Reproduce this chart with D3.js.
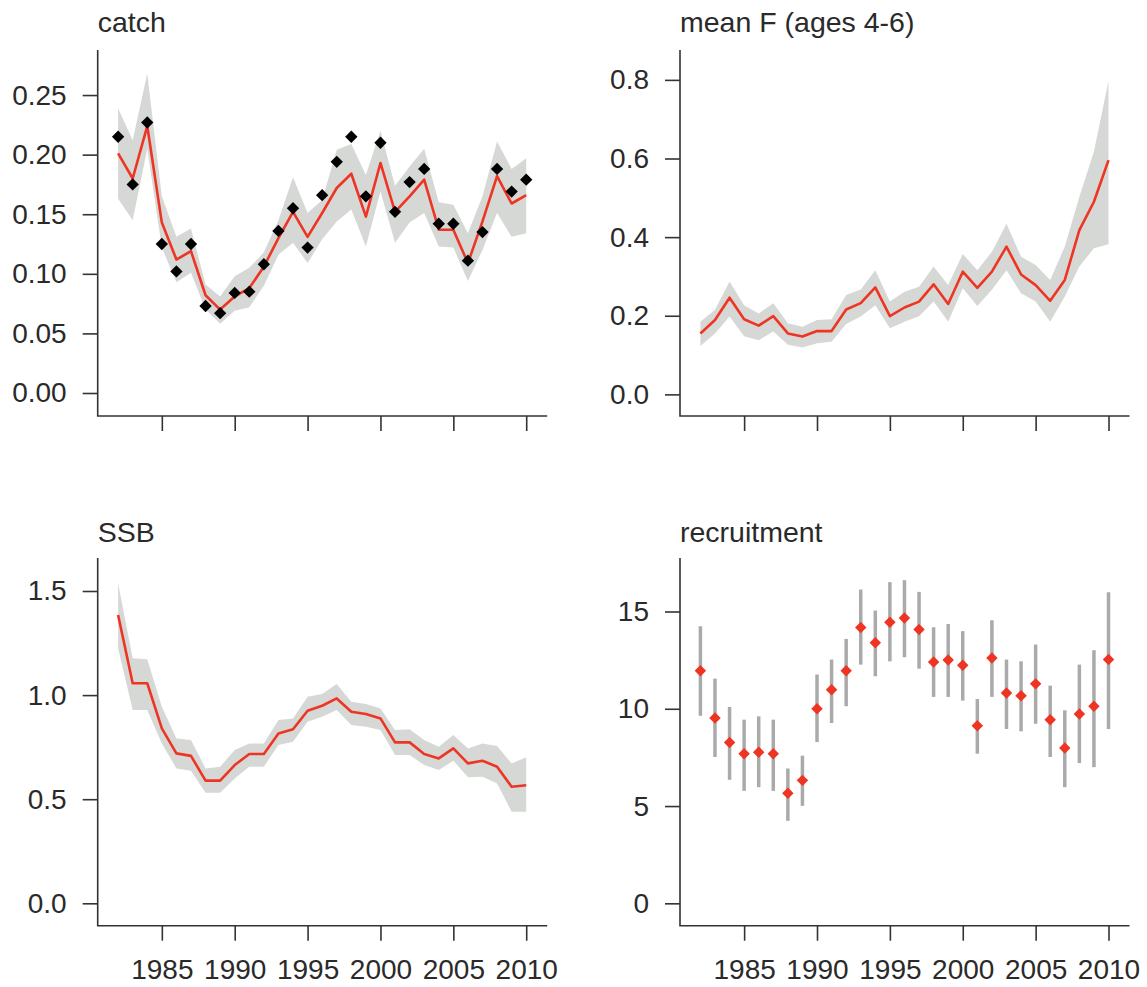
<!DOCTYPE html>
<html>
<head>
<meta charset="utf-8">
<script src="https://cdn.jsdelivr.net/npm/d3@7"></script>
<style>
  body { margin: 0; background: #fff; }
  svg { display: block; }
  text { font-family: "Liberation Sans", Arial, sans-serif; fill: #2a2a2a; }
</style>
</head>
<body>
<svg id="chart" width="1147" height="987"></svg>
<script>
// years of the assessment
const years = d3.range(1982, 2011);
const yearTicks = [1985, 1990, 1995, 2000, 2005, 2010];

// catch: observed points, fitted line and band
const catchObs = [0.215, 0.175, 0.227, 0.125, 0.102, 0.125, 0.073, 0.067, 0.084, 0.085,
  0.108, 0.136, 0.155, 0.122, 0.166, 0.194, 0.215, 0.165, 0.210, 0.152,
  0.177, 0.188, 0.142, 0.142, 0.111, 0.135, 0.188, 0.169, 0.179];
const catchFit = [0.201, 0.180, 0.224, 0.143, 0.112, 0.119, 0.082, 0.070, 0.081, 0.088,
  0.106, 0.130, 0.152, 0.131, 0.151, 0.172, 0.184, 0.148, 0.193, 0.152,
  0.165, 0.179, 0.137, 0.137, 0.109, 0.144, 0.182, 0.159, 0.166];
const catchLo = [0.163, 0.145, 0.205, 0.122, 0.093, 0.101, 0.070, 0.058, 0.069, 0.072,
  0.090, 0.116, 0.126, 0.109, 0.129, 0.144, 0.154, 0.123, 0.169, 0.126,
  0.143, 0.151, 0.123, 0.122, 0.094, 0.120, 0.151, 0.131, 0.134];
const catchHi = [0.239, 0.212, 0.268, 0.165, 0.131, 0.138, 0.091, 0.081, 0.098, 0.105,
  0.118, 0.145, 0.181, 0.151, 0.162, 0.204, 0.209, 0.183, 0.220, 0.174,
  0.190, 0.205, 0.160, 0.158, 0.134, 0.165, 0.211, 0.188, 0.197];
const catchTicks = [0, 0.05, 0.10, 0.15, 0.20, 0.25];

// mean F (ages 4-6)
const fbarFit = [0.155, 0.189, 0.246, 0.191, 0.175, 0.199, 0.155, 0.147, 0.161, 0.161,
  0.216, 0.232, 0.272, 0.199, 0.221, 0.236, 0.280, 0.230, 0.312, 0.271,
  0.312, 0.376, 0.305, 0.278, 0.238, 0.291, 0.418, 0.490, 0.596];
const fbarLo = [0.123, 0.155, 0.198, 0.148, 0.138, 0.160, 0.126, 0.119, 0.130, 0.134,
  0.179, 0.198, 0.227, 0.168, 0.185, 0.199, 0.236, 0.185, 0.270, 0.225,
  0.266, 0.316, 0.257, 0.236, 0.185, 0.249, 0.325, 0.372, 0.382];
const fbarHi = [0.185, 0.215, 0.287, 0.227, 0.206, 0.232, 0.181, 0.172, 0.189, 0.191,
  0.253, 0.267, 0.316, 0.236, 0.261, 0.274, 0.325, 0.278, 0.357, 0.316,
  0.363, 0.434, 0.350, 0.329, 0.291, 0.376, 0.503, 0.618, 0.798];
const fbarTicks = [0, 0.2, 0.4, 0.6, 0.8];

// SSB
const ssbFit = [1.385, 1.057, 1.057, 0.840, 0.720, 0.708, 0.589, 0.589, 0.664, 0.717,
  0.717, 0.816, 0.836, 0.925, 0.949, 0.984, 0.920, 0.909, 0.888, 0.773,
  0.773, 0.717, 0.696, 0.744, 0.672, 0.685, 0.656, 0.560, 0.567];
const ssbLo = [1.225, 0.928, 0.928, 0.768, 0.648, 0.637, 0.531, 0.531, 0.600, 0.656,
  0.656, 0.760, 0.776, 0.872, 0.896, 0.928, 0.856, 0.848, 0.832, 0.712,
  0.712, 0.664, 0.640, 0.685, 0.605, 0.608, 0.576, 0.440, 0.440];
const ssbHi = [1.537, 1.177, 1.172, 0.944, 0.792, 0.784, 0.648, 0.656, 0.736, 0.768,
  0.768, 0.880, 0.888, 0.992, 1.005, 1.053, 0.968, 0.957, 0.936, 0.832,
  0.836, 0.784, 0.752, 0.808, 0.744, 0.768, 0.755, 0.672, 0.701];
const ssbTicks = [0, 0.5, 1.0, 1.5];

// recruitment with intervals
const recFit = [11.96, 9.52, 8.27, 7.69, 7.77, 7.69, 5.66, 6.32, 10.00, 10.98,
  11.96, 14.18, 13.39, 14.45, 14.67, 14.07, 12.41, 12.51, 12.24, 9.13,
  12.61, 10.81, 10.67, 11.28, 9.44, 7.98, 9.73, 10.13, 12.53];
const recLo = [9.64, 7.52, 6.35, 5.78, 5.97, 5.78, 4.24, 5.01, 8.29, 9.27,
  10.13, 12.27, 11.67, 12.44, 12.65, 12.06, 10.61, 10.61, 10.42, 7.69,
  10.61, 8.96, 8.84, 9.23, 7.52, 5.97, 7.21, 7.00, 8.96];
const recHi = [14.24, 11.55, 10.09, 9.44, 9.61, 9.44, 6.93, 7.59, 11.76, 12.53,
  13.59, 16.13, 15.05, 16.51, 16.61, 16.01, 14.19, 14.36, 13.99, 10.50,
  14.55, 12.53, 12.44, 13.30, 11.19, 9.92, 12.27, 13.01, 15.99];
const recTicks = [0, 5, 10, 15];

const bandColor = "#d6d8d6";
const redColor = "#ee3524";
const axisColor = "#333";

const svg = d3.select("#chart");

function panel(opt) {
  const g = svg.append("g");
  const x = d3.scaleLinear().domain([1980.6, 2011.44]).range([opt.left, opt.left + 449.5]);
  const y = d3.scaleLinear().domain(opt.yDomain).range([opt.bottom, opt.top]);

  // title
  g.append("text")
    .attr("x", opt.left)
    .attr("y", opt.titleY)
    .style("font-size", "28.5px")
    .text(opt.title);

  // data layers
  if (opt.lo && !opt.bars) {
    const area = d3.area()
      .x((d, i) => x(years[i]))
      .y0((d, i) => y(opt.lo[i]))
      .y1((d, i) => y(opt.hi[i]));
    g.append("path").datum(opt.fit).attr("d", area).attr("fill", bandColor);
  }
  if (opt.bars) {
    g.selectAll(".bar").data(years).enter().append("line")
      .attr("x1", d => x(d)).attr("x2", d => x(d))
      .attr("y1", (d, i) => y(opt.lo[i]))
      .attr("y2", (d, i) => y(opt.hi[i]))
      .attr("stroke", "#aaaaaa")
      .attr("stroke-width", 3.5);
    g.selectAll(".pt").data(years).enter().append("path")
      .attr("d", d3.symbol(d3.symbolSquare, 66))
      .attr("transform", (d, i) => `translate(${x(d)},${y(opt.fit[i])}) rotate(45)`)
      .attr("fill", redColor);
  } else {
    const line = d3.line().x((d, i) => x(years[i])).y(d => y(d));
    g.append("path").datum(opt.fit).attr("d", line)
      .attr("fill", "none").attr("stroke", redColor).attr("stroke-width", 2.6)
      .attr("stroke-linejoin", "round");
  }
  if (opt.obs) {
    g.selectAll(".obs").data(years).enter().append("path")
      .attr("d", d3.symbol(d3.symbolSquare, 76))
      .attr("transform", (d, i) => `translate(${x(d)},${y(opt.obs[i])}) rotate(45)`)
      .attr("fill", "#000");
  }

  // axes
  const yAxis = d3.axisLeft(y).tickValues(opt.yTicks).tickFormat(d3.format(opt.fmt))
    .tickSize(15).tickPadding(16);
  const ya = g.append("g").attr("transform", `translate(${opt.left},0)`).call(yAxis);
  const xAxis = d3.axisBottom(x).tickValues(yearTicks).tickFormat(d3.format("d"))
    .tickSize(15).tickPadding(18);
  const xa = g.append("g").attr("transform", `translate(0,${opt.bottom})`).call(xAxis);
  [ya, xa].forEach(a => {
    a.select(".domain").remove();
    a.selectAll("line").attr("stroke", axisColor).attr("stroke-width", 1.6);
    a.selectAll("text").style("font-size", "28px").attr("fill", "#2a2a2a")
      .style("font-family", "'Liberation Sans', Arial, sans-serif");
  });
  if (!opt.xLabels) xa.selectAll("text").remove();

  // L-shaped box
  g.append("path")
    .attr("d", `M${opt.left},${opt.top}V${opt.bottom}H${opt.left + 449.5}`)
    .attr("fill", "none").attr("stroke", axisColor).attr("stroke-width", 1.6);
}

panel({ title: "catch", left: 97.7, top: 50, bottom: 416, titleY: 32,
  yDomain: [-0.0193, 0.2878], yTicks: catchTicks, fmt: ".2f",
  fit: catchFit, lo: catchLo, hi: catchHi, obs: catchObs, xLabels: false });

panel({ title: "mean F (ages 4-6)", left: 680, top: 50, bottom: 416, titleY: 32,
  yDomain: [-0.055, 0.876], yTicks: fbarTicks, fmt: ".1f",
  fit: fbarFit, lo: fbarLo, hi: fbarHi, xLabels: false });

panel({ title: "SSB", left: 97.7, top: 558, bottom: 925.7, titleY: 541.7,
  yDomain: [-0.1076, 1.6585], yTicks: ssbTicks, fmt: ".1f",
  fit: ssbFit, lo: ssbLo, hi: ssbHi, xLabels: true });

panel({ title: "recruitment", left: 680, top: 558, bottom: 925.7, titleY: 541.7,
  yDomain: [-1.15, 17.75], yTicks: recTicks, fmt: "d",
  fit: recFit, lo: recLo, hi: recHi, bars: true, xLabels: true });
</script>
</body>
</html>
